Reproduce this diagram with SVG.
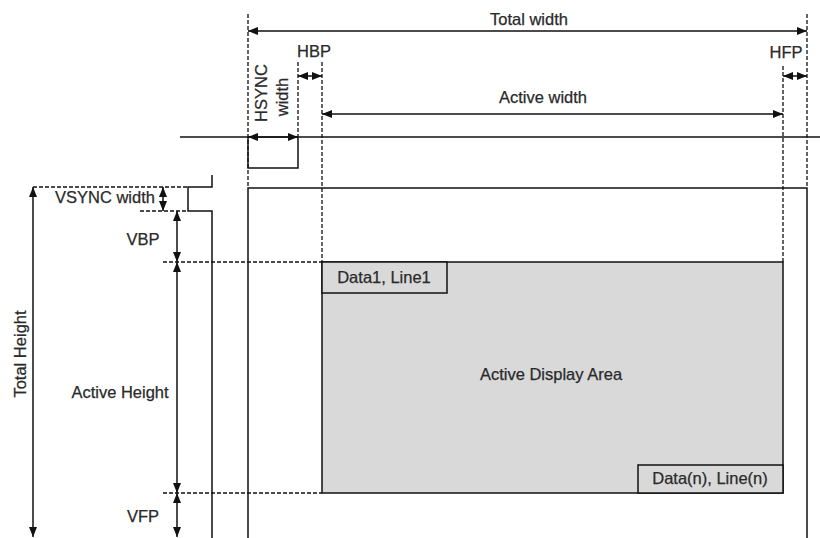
<svg xmlns="http://www.w3.org/2000/svg" width="820" height="538" viewBox="0 0 820 538">
<defs>
<marker id="ah" viewBox="0 0 10 8" refX="10" refY="4" markerWidth="10" markerHeight="8" markerUnits="userSpaceOnUse" orient="auto-start-reverse">
<path d="M0,0 L10,4 L0,8 Z" fill="#111"/>
</marker>
<style>
.t{font-family:"Liberation Sans",Arial,sans-serif;font-size:16.5px;fill:#2a2a2a;stroke:#2a2a2a;stroke-width:0.25}
.m{text-anchor:middle}
.s{stroke:#111;stroke-width:1.5;fill:none}
.d{stroke:#111;stroke-width:1.3;fill:none;stroke-dasharray:4 2}
.a{stroke:#111;stroke-width:1.5;fill:none;marker-start:url(#ah);marker-end:url(#ah)}
</style>
</defs>
<rect width="820" height="538" fill="#fff"/>
<g id="guides">
<line class="d" x1="248" y1="14" x2="248" y2="188"/>
<line class="d" x1="298" y1="62" x2="298" y2="137"/>
<line class="d" x1="322" y1="62" x2="322" y2="262"/>
<line class="d" x1="783" y1="66" x2="783" y2="262"/>
<line class="d" x1="807" y1="14" x2="807" y2="188"/>
<line class="d" x1="33" y1="187" x2="188" y2="187"/>
<line class="d" x1="140" y1="211" x2="188" y2="211"/>
<line class="d" x1="163" y1="262" x2="322" y2="262"/>
<line class="d" x1="163" y1="493" x2="322" y2="493"/>
</g>
<g id="hsync">
<line class="s" x1="180" y1="137" x2="820" y2="137"/>
<path class="s" d="M248,137 V168 H298 V137"/>
</g>
<g id="vsync">
<path class="s" d="M212,175 V187 H188 V211 H212 V538"/>
</g>
<g id="frame">
<path class="s" d="M248,538 V188 H807 V538"/>
</g>
<g id="active-area">
<rect x="322" y="262" width="461" height="231" fill="#d9d9d9" stroke="#111" stroke-width="1.5"/>
<text class="t m" x="551" y="380">Active Display Area</text>
</g>
<g id="first-pixel">
<rect x="322" y="262" width="125" height="31" fill="#d9d9d9" stroke="#111" stroke-width="1.5"/>
<text class="t m" x="384" y="283">Data1, Line1</text>
</g>
<g id="last-pixel">
<rect x="638" y="465" width="145" height="28" fill="#d9d9d9" stroke="#111" stroke-width="1.5"/>
<text class="t m" x="710" y="484">Data(n), Line(n)</text>
</g>
<g id="connectors">
<line class="a" x1="248" y1="31" x2="807" y2="31"/>
<line class="a" x1="298" y1="76" x2="322" y2="76"/>
<line class="a" x1="783" y1="76" x2="807" y2="76"/>
<line class="a" x1="322" y1="114" x2="783" y2="114"/>
<line class="a" x1="248" y1="137" x2="298" y2="137"/>
<line class="a" x1="33" y1="187" x2="33" y2="537"/>
<line class="a" x1="163" y1="187" x2="163" y2="211"/>
<line class="a" x1="177" y1="211" x2="177" y2="262"/>
<line class="a" x1="177" y1="262" x2="177" y2="493"/>
<line class="a" x1="177" y1="493" x2="177" y2="537"/>
</g>
<g id="labels">
<text class="t m" x="529" y="25">Total width</text>
<text class="t m" x="314" y="57">HBP</text>
<text class="t m" x="786" y="58">HFP</text>
<text class="t m" x="543" y="103">Active width</text>
<text class="t m" transform="translate(267,93) rotate(-90)">HSYNC</text>
<text class="t m" transform="translate(288,97) rotate(-90)">width</text>
<text class="t m" transform="translate(26,354) rotate(-90)">Total Height</text>
<text class="t m" x="105" y="203">VSYNC width</text>
<text class="t m" x="143" y="245">VBP</text>
<text class="t m" x="120" y="398">Active Height</text>
<text class="t m" x="143" y="522">VFP</text>
</g>
</svg>
